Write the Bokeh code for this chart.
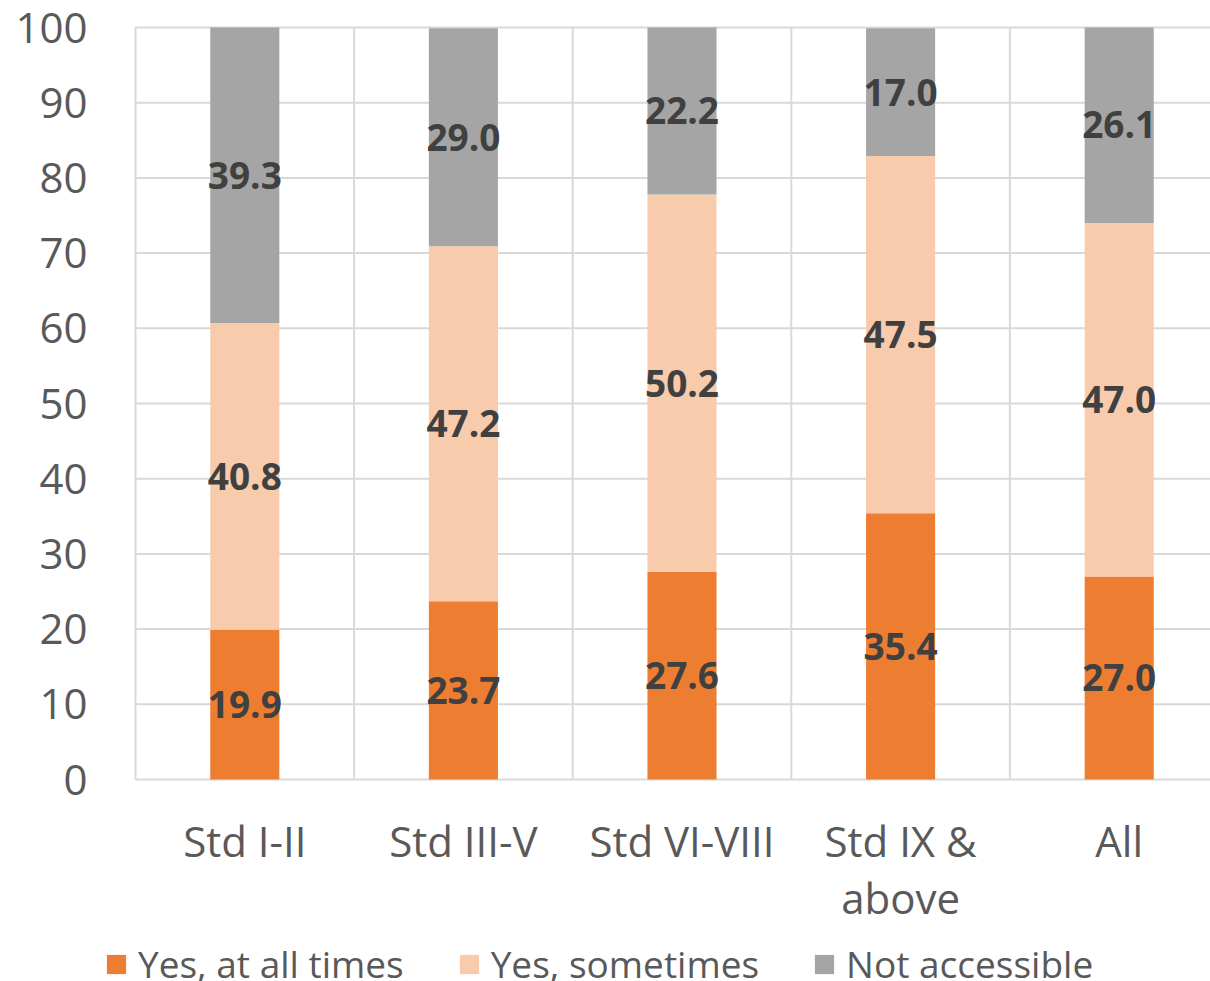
from bokeh.plotting import figure
from bokeh.models import Range1d, FixedTicker, Legend, LegendItem, ColumnDataSource
from bokeh.core.properties import value
from bokeh.embed import file_html
from bokeh.resources import INLINE

categories = ["Std I-II", "Std III-V", "Std VI-VIII", "Std IX & above", "All"]
tick_labels = ["Std I-II", "Std III-V", "Std VI-VIII", "Std IX &\nabove", "All"]
series = ["Yes, at all times", "Yes, sometimes", "Not accessible"]
all_times = [19.9, 23.7, 27.6, 35.4, 27.0]
sometimes = [40.8, 47.2, 50.2, 47.5, 47.0]
not_accessible = [39.3, 29.0, 22.2, 17.0, 26.1]
y_ticks = [0, 10, 20, 30, 40, 50, 60, 70, 80, 90, 100]

colors = ["#ED7D31", "#F8CBAD", "#A5A5A5"]
FONT = "Open Sans"
GRID = "#D9D9D9"

n = len(categories)
xs = [i + 0.5 for i in range(n)]
px_per_unit = 7.52
cat_px = 218.6
y_min = -(981 - 779) / px_per_unit
y_max = 100 + 27 / px_per_unit
x_min = -135 / cat_px
x_max = (1210 - 135) / cat_px

p = figure(
    output_backend="svg", toolbar_location=None,
    frame_width=1210, frame_height=981,
    min_border_left=0, min_border_top=0, min_border_right=0, min_border_bottom=0,
    x_range=Range1d(x_min, x_max), y_range=Range1d(y_min, y_max),
)
p.outline_line_color = None
p.background_fill_color = "white"
p.border_fill_color = "white"

# horizontal gridlines (0..100) across the plot area
p.segment(x0=[0] * len(y_ticks), y0=y_ticks, x1=[n] * len(y_ticks), y1=y_ticks,
          line_color=GRID, line_width=2)
# category separators (vertical lines between categories, from 0 to 100)
bounds = list(range(n + 1))
p.segment(x0=bounds, y0=[0] * len(bounds), x1=bounds, y1=[100] * len(bounds),
          line_color=GRID, line_width=2)

values = [all_times, sometimes, not_accessible]
bottoms = [0.0] * n
items = []
for name, vals, col in zip(series, values, colors):
    tops = [b + v for b, v in zip(bottoms, vals)]
    mids = [(b + t) / 2 for b, t in zip(bottoms, tops)]
    src = ColumnDataSource(dict(x=xs, bottom=bottoms, top=[min(t, 100) for t in tops], mid=mids,
                                lab=["%.1f" % v for v in vals]))
    r = p.vbar(x="x", width=0.316, bottom="bottom", top="top", source=src,
               fill_color=col, line_color=None)
    p.text(x="x", y="mid", text="lab", source=src, text_align="center",
           text_baseline="middle", text_font=value(FONT), text_font_style="bold",
           text_font_size="37px", text_color="#404040")
    items.append(LegendItem(label=name, renderers=[r]))
    bottoms = tops

p.xaxis.ticker = FixedTicker(ticks=xs)
p.xaxis.major_label_overrides = {x: t for x, t in zip(xs, tick_labels)}
p.xaxis.major_label_text_line_height = 1.0
p.xaxis.fixed_location = 0
p.yaxis.ticker = FixedTicker(ticks=y_ticks)
p.yaxis.fixed_location = 0
for ax in (p.xaxis, p.yaxis):
    ax.axis_line_color = None
    ax.major_tick_line_color = None
    ax.minor_tick_line_color = None
    ax.major_label_text_font = FONT
    ax.major_label_text_font_size = "42px"
    ax.major_label_text_color = "#595959"
p.yaxis.major_label_standoff = 42
p.xaxis.major_label_standoff = 26

p.xgrid.visible = False
p.ygrid.visible = False

legend = Legend(items=items, orientation="horizontal", location=(104, -8),
                glyph_width=24, glyph_height=24, label_standoff=10, spacing=53,
                padding=0, margin=0, border_line_color=None,
                label_text_font=FONT, label_text_font_size="37px",
                label_text_color="#595959", background_fill_alpha=0)
p.add_layout(legend, "center")

open("out.html", "w").write(file_html(p, INLINE))
